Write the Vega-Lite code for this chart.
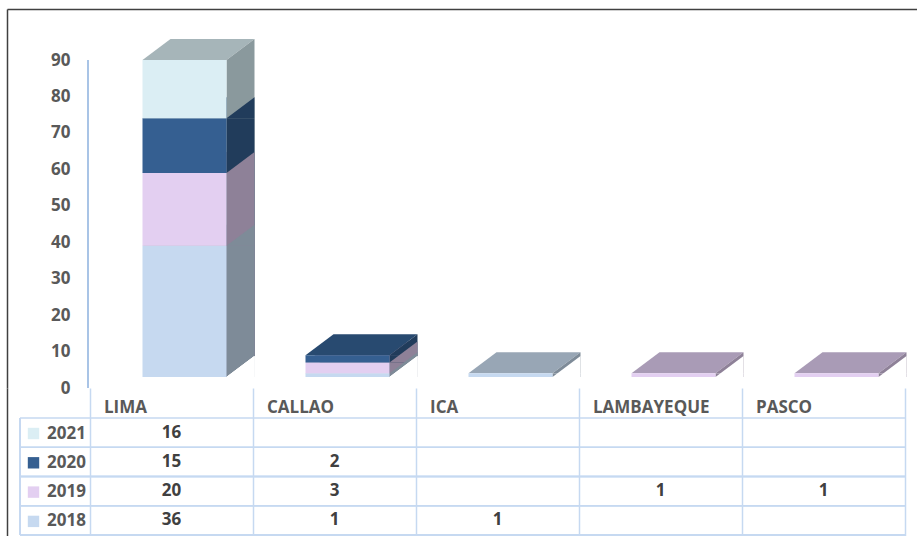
{
  "$schema": "https://vega.github.io/schema/vega-lite/v6.json",
  "autosize": {"type": "pad"},
  "padding": {"left": 7, "top": 9, "right": 0, "bottom": 0},
  "background": "white",
  "config": {"view": {"stroke": null}, "font": "Open Sans"},
  "data": {"values": [
    {"region": "LIMA", "year": "2018", "value": 36},
    {"region": "LIMA", "year": "2019", "value": 20},
    {"region": "LIMA", "year": "2020", "value": 15},
    {"region": "LIMA", "year": "2021", "value": 16},
    {"region": "CALLAO", "year": "2018", "value": 1},
    {"region": "CALLAO", "year": "2019", "value": 3},
    {"region": "CALLAO", "year": "2020", "value": 2},
    {"region": "ICA", "year": "2018", "value": 1},
    {"region": "LAMBAYEQUE", "year": "2019", "value": 1},
    {"region": "PASCO", "year": "2019", "value": 1}
  ]},
  "spacing": 0,
  "bounds": "flush",
  "vconcat": [
    {
      "width": 910,
      "height": 379,
      "transform": [{"stack": "value", "groupby": ["region"], "sort": [{"field": "year", "order": "ascending"}], "as": ["v0", "v1"]}],
      "encoding": {
        "x": {"field": "region", "type": "nominal", "sort": ["LIMA", "CALLAO", "ICA", "LAMBAYEQUE", "PASCO"],
          "scale": {"paddingInner": 0, "paddingOuter": 0.2914, "align": 0.8737},
          "axis": {"orient": "top", "domain": true, "domainColor": "#404040", "domainWidth": 1.5, "ticks": false, "labels": false, "grid": false, "title": null}},
        "y": {"field": "v1", "type": "quantitative", "scale": {"domain": [0, 104], "nice": false, "zero": true},
          "axis": {"values": [0, 10, 20, 30, 40, 50, 60, 70, 80, 90], "domain": true, "domainColor": "#404040", "domainWidth": 1.5, "ticks": false, "grid": false,
            "labelPadding": -63, "labelAlign": "right", "labelBaseline": "middle", "labelFont": "Open Sans", "labelFontWeight": "bold", "labelFontSize": 17, "labelColor": "#595959", "title": null}}
      },
      "layer": [
        {
          "mark": {"type": "rule", "color": "#a9c4e6", "strokeWidth": 1.5, "xOffset": -2},
          "encoding": {"x": {"datum": "LIMA", "type": "nominal", "bandPosition": 0}, "y": {"datum": 0}, "y2": {"datum": 90}}
        },
        {
          "mark": {"type": "point", "shape": "M-29,-11L55,-11L83,-32L-1,-32Z", "size": 4, "filled": true, "opacity": 1, "strokeWidth": 0},
          "encoding": {
            "color": {"field": "year", "type": "nominal", "scale": {"domain": ["2018", "2019", "2020", "2021"], "range": ["#98a6b5", "#a99bb6", "#284a70", "#a6b5b9"]}, "legend": null},
            "order": {"field": "year", "sort": "ascending"}
          }
        },
        {
          "mark": {"type": "bar", "width": 28, "xOffset": 69, "yOffset": -11, "y2Offset": -11},
          "encoding": {
            "y2": {"datum": 0},
            "color": {"field": "year", "type": "nominal", "scale": {"domain": ["2018", "2019", "2020", "2021"], "range": ["#7e8b98", "#8e8198", "#213c5b", "#8a999d"]}, "legend": null},
            "order": {"field": "year", "sort": "descending"}
          }
        },
        {
          "mark": {"type": "point", "shape": "M55,-11L83,-32L83,-11Z", "size": 4, "filled": true, "opacity": 1, "strokeWidth": 0},
          "encoding": {
            "color": {"field": "year", "type": "nominal", "scale": {"domain": ["2018", "2019", "2020", "2021"], "range": ["#7e8b98", "#8e8198", "#213c5b", "#8a999d"]}, "legend": null},
            "order": {"field": "year", "sort": "descending"}
          }
        },
        {
          "mark": {"type": "point", "shape": "M55,-11L83,-32L83,-11Z", "size": 4, "filled": true, "opacity": 1, "strokeWidth": 0, "color": "white"},
          "encoding": {"y": {"datum": 0}}
        },
        {
          "mark": {"type": "bar", "width": 84, "xOffset": 13, "yOffset": -11, "y2Offset": -11},
          "encoding": {
            "y2": {"field": "v0"},
            "color": {"field": "year", "type": "nominal", "scale": {"domain": ["2018", "2019", "2020", "2021"], "range": ["#c6d9f0", "#e3cff1", "#355f91", "#dbeef4"]},
              "legend": {"orient": "none", "legendX": 18, "legendY": 416, "title": null, "values": ["2021", "2020", "2019", "2018"], "direction": "vertical",
                "symbolType": "square", "symbolSize": 130, "symbolStrokeWidth": 0, "labelFont": "Open Sans", "labelFontSize": 17, "labelFontWeight": "bold", "labelColor": "#595959",
                "rowPadding": 11.3, "labelOffset": 5, "padding": 0}}
          }
        }
      ],
      "resolve": {"scale": {"color": "independent"}}
    },
    {
      "width": 910,
      "height": 152,
      "encoding": {
        "x": {"field": "region", "type": "nominal", "sort": ["LIMA", "CALLAO", "ICA", "LAMBAYEQUE", "PASCO"],
          "scale": {"paddingInner": 0, "paddingOuter": 0.2914, "align": 0.8737},
          "axis": {"orient": "top", "grid": true, "tickBand": "extent", "gridColor": "#c6d9f1", "gridWidth": 1.5, "domain": false, "ticks": false,
            "labelAngle": 0, "labelPadding": -19, "labelBaseline": "middle", "labelAlign": "left", "labelOffset": -68, "labelFont": "Open Sans", "labelFontSize": 17, "labelFontWeight": "bold", "labelColor": "#595959", "title": null}},
        "y": {"field": "year", "type": "nominal", "sort": ["2021", "2020", "2019", "2018"],
          "scale": {"paddingInner": 0, "paddingOuter": 0.5983, "align": 0.857},
          "axis": {"domain": true, "domainColor": "#404040", "domainWidth": 1.5, "ticks": false, "labels": false, "grid": false, "title": null}}
      },
      "layer": [
        {
          "mark": {"type": "rule", "color": "#c6d9f1", "strokeWidth": 1.5, "xOffset": -70},
          "encoding": {"x": {"datum": "LIMA", "type": "nominal", "bandPosition": 0}, "x2": {"datum": "PASCO", "bandPosition": 1}, "y": {"field": "year", "type": "nominal", "bandPosition": 0}}
        },
        {
          "mark": {"type": "rule", "color": "#c6d9f1", "strokeWidth": 1.5, "xOffset": -70},
          "encoding": {"x": {"datum": "LIMA", "type": "nominal", "bandPosition": 0}, "x2": {"datum": "PASCO", "bandPosition": 1}, "y": {"datum": "2018", "type": "nominal", "bandPosition": 1}}
        },
        {
          "mark": {"type": "rule", "color": "#c6d9f1", "strokeWidth": 1.5, "xOffset": -70},
          "encoding": {"x": {"datum": "LIMA", "type": "nominal", "bandPosition": 0}, "y": {"datum": "2021", "type": "nominal", "bandPosition": 0}, "y2": {"datum": "2018", "bandPosition": 1}}
        },
        {
          "mark": {"type": "text", "font": "Open Sans", "fontWeight": "bold", "fontSize": 17, "color": "#404040"},
          "encoding": {"text": {"field": "value", "type": "quantitative"}}
        }
      ]
    }
  ]
}
